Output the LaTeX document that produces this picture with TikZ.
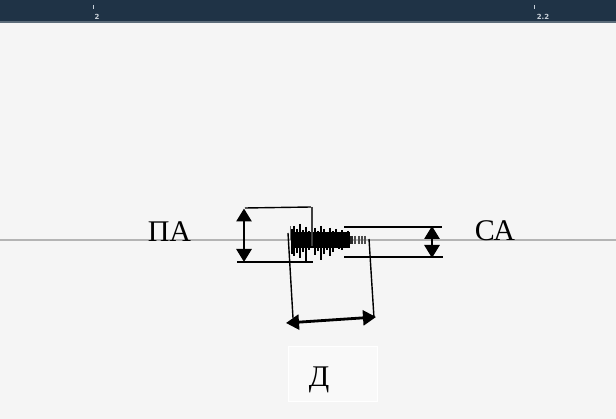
\documentclass[tikz,border=0pt]{standalone}
\usepackage{fontspec}
\setmainfont{Liberation Serif}
\newfontfamily\tickfont{DejaVu Sans}
\usetikzlibrary{arrows.meta}
\definecolor{bg}{HTML}{F5F5F5}
\definecolor{barc}{HTML}{1F3346}
\definecolor{baredge}{HTML}{5C6C7A}
\definecolor{axisline}{HTML}{B4B4B4}
\definecolor{tickc}{HTML}{C8D0D8}
\tikzset{
  bracketline/.style={black, line width=1.4pt},
  dimarrow/.style={black, line width=2.8pt, {Triangle[length=13pt,width=15pt]}-{Triangle[length=13pt,width=15pt]}},
  bigtext/.style={font=\fontsize{30}{31}\selectfont, inner sep=0pt, anchor=base},
  ticklabel/.style={font=\tickfont\fontsize{7}{7}\selectfont\bfseries, text=tickc, inner sep=0pt},
  wave/.style={black, line width=1.7pt},
}
\begin{document}
\begin{tikzpicture}[x=1pt,y=-1pt]
\useasboundingbox (0,0) rectangle (616,419);
\fill[bg] (0,0) rectangle (616,419);
% top bar
\fill[barc] (0,0) rectangle (616,22);
\fill[baredge] (0,21) rectangle (616,23);
\draw[tickc, line width=0.9pt] (93,5) -- (93,9);
\node[ticklabel] (t1) at (97,16.5) {2};
\draw[tickc, line width=0.9pt] (534,5) -- (534,9);
\node[ticklabel] (t2) at (543,16.5) {2.2};
% baseline
\draw[axisline, line width=1.3pt] (0,240) -- (616,240);
% labels
\node[bigtext] (pa) at (169.5,242) {ПА};
\node[bigtext] (ca) at (495,241) {СА};
% duration box
\node[draw=white, fill=bg!60!white, line width=1pt, minimum width=89pt, minimum height=55pt, anchor=north west, inner sep=0pt] (dbox) at (288,346) {};
\node[bigtext] (d) at (319,387) {Д};
% waveform
\fill[black] (292,232) rectangle (350,248);
\foreach \x/\a/\b in {292/229/254, 294/226/256, 297/229/253, 300/224/258, 303/230/252, 306/227/262, 309/231/250, 312/214/246, 315/228/255, 318/231/251, 321/226/260, 324/229/254, 327/232/250, 330/228/256, 333/231/252, 336/229/248, 339/232/249, 342/230/250, 345/233/247, 348/231/248}
  \draw[wave] (\x,\a) -- (\x,\b);
\draw[black!75, line width=1.6pt] (312,207) -- (312,246);
\draw[black!60, line width=1pt] (290.5,226) -- (290.5,240);
\fill[black!85] (350,236) rectangle (353,244);
\foreach \x in {355,359,362,365}
  \draw[black!70, line width=1.1pt] (\x,236) -- (\x,244);
% left amplitude bracket
\coordinate (lt1) at (245,208);
\coordinate (lt2) at (311,207);
\coordinate (lb1) at (237,262);
\coordinate (lb2) at (313,262);
\draw[bracketline] (lt1) -- (lt2);
\draw[bracketline] (lb1) -- (lb2);
\coordinate (la1) at (244,208.5);
\coordinate (la2) at (244,262);
\draw[dimarrow] (la1) -- (la2);
% right amplitude bracket
\coordinate (rt1) at (344,227);
\coordinate (rt2) at (442,227);
\coordinate (rb1) at (344,257);
\coordinate (rb2) at (443,257);
\draw[bracketline] (rt1) -- (rt2);
\draw[bracketline] (rb1) -- (rb2);
\coordinate (ra1) at (432,226);
\coordinate (ra2) at (432,258);
\draw[dimarrow] (ra1) -- (ra2);
% duration bracket
\coordinate (dl1) at (288,233);
\coordinate (dl2) at (293,318);
\coordinate (dr1) at (369,239);
\coordinate (dr2) at (374,318);
\draw[bracketline] (dl1) -- (dl2);
\draw[bracketline] (dr1) -- (dr2);
\coordinate (da1) at (286,323);
\coordinate (da2) at (376,317);
\draw[dimarrow] (da1) -- (da2);
\end{tikzpicture}
\end{document}
